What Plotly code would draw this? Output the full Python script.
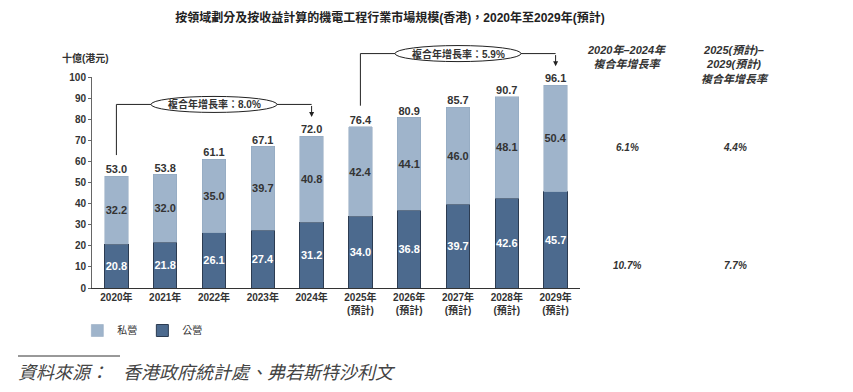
import plotly.graph_objects as go

# ---- data ----
categories = ["2020年", "2021年", "2022年", "2023年", "2024年",
              "2025年<br>(預計)", "2026年<br>(預計)", "2027年<br>(預計)",
              "2028年<br>(預計)", "2029年<br>(預計)"]
public_vals = [20.8, 21.8, 26.1, 27.4, 31.2, 34.0, 36.8, 39.7, 42.6, 45.7]
private_vals = [32.2, 32.0, 35.0, 39.7, 40.8, 42.4, 44.1, 46.0, 48.1, 50.4]
totals = [53.0, 53.8, 61.1, 67.1, 72.0, 76.4, 80.9, 85.7, 90.7, 96.1]
y_ticks = [0, 10, 20, 30, 40, 50, 60, 70, 80, 90, 100]
cagr_spans = [(0, 4, "複合年增長率：8.0%"), (5, 9, "複合年增長率：5.9%")]
cagr_headers = ["2020年–2024年<br>複合年增長率", "2025(預計)–<br>2029(預計)<br>複合年增長率"]
cagr_private = ["6.1%", "4.4%"]
cagr_public = ["10.7%", "7.7%"]

LIGHT = "#9fb4cb"
DARK = "#4c6a8e"
DARK_EDGE = "#2c3c52"
TXT = "#333333"
NUM_FONT = "Liberation Sans, Arial, sans-serif"
CJK = "Liberation Sans, Noto Sans CJK TC, sans-serif"

# page has an 8px body margin: convert reference pixel positions to figure pixels
OFF = 8
W, H = 853 - OFF, 392 - OFF
PL, PR, PT, PB = 92 - OFF, 580 - OFF, 77 - OFF, 288 - OFF
Y_MAX = 100
N = len(categories)
PX_PER_UNIT = (PB - PT) / Y_MAX


def px_x(px):
    return (px - OFF - PL) / (PR - PL)


def px_y(py):
    return (PB - (py - OFF)) / (PB - PT)


def cat_x(i):
    return (i + 0.5) / N


def val_y(v):
    return v / Y_MAX


fig = go.Figure()
fig.add_trace(go.Bar(
    x=categories, y=public_vals, name="公營",
    marker=dict(color=DARK, line=dict(color=DARK_EDGE, width=1)),
    text=[f"{v:.1f}" for v in public_vals], textposition="inside", textangle=0,
    insidetextanchor="middle", constraintext="none",
    textfont=dict(color="white", size=11, family=NUM_FONT, weight="bold"),
))
fig.add_trace(go.Bar(
    x=categories, y=private_vals, name="私營",
    marker=dict(color=LIGHT, line=dict(color="#8fa5bd", width=0.5)),
    text=[f"{v:.1f}" for v in private_vals], textposition="inside", textangle=0,
    insidetextanchor="middle", constraintext="none",
    textfont=dict(color=TXT, size=11, family=NUM_FONT, weight="bold"),
))
fig.add_trace(go.Scatter(
    x=categories, y=totals, mode="text",
    text=[f"{v:.1f}" for v in totals], textposition="top center",
    textfont=dict(color=TXT, size=11, family=NUM_FONT, weight="bold"),
    showlegend=False, hoverinfo="skip", cliponaxis=False,
))

# CAGR brackets derived from data (paper refs so they are not clipped)
for i0, i1, label in cagr_spans:
    level = max(totals[i0:i1 + 1]) + 15
    y_start = totals[i0] + 10
    y_end = totals[i1] + 9
    line = dict(color="#222222", width=1)
    fig.add_shape(type="line", xref="paper", yref="paper", x0=cat_x(i0), x1=cat_x(i0),
                  y0=val_y(y_start), y1=val_y(level), line=line)
    fig.add_shape(type="line", xref="paper", yref="paper", x0=cat_x(i0), x1=cat_x(i1),
                  y0=val_y(level), y1=val_y(level), line=line)
    fig.add_annotation(x=cat_x(i1), y=val_y(y_end), xref="paper", yref="paper",
                       ax=0, ay=-(level - y_end) * PX_PER_UNIT,
                       showarrow=True, arrowhead=2, arrowsize=1, arrowwidth=1,
                       arrowcolor="#222222", text="")
    mid = (cat_x(i0) + cat_x(i1)) / 2
    fig.add_shape(type="circle", xref="paper", yref="paper", x0=mid - 63 / (PR - PL),
                  x1=mid + 63 / (PR - PL), y0=val_y(level - 3.8), y1=val_y(level + 3.8),
                  line=dict(color="#222222", width=1), fillcolor="white", layer="above")
    fig.add_annotation(x=mid, y=val_y(level), xref="paper", yref="paper", text=label,
                       xanchor="center", yanchor="middle", showarrow=False,
                       font=dict(size=10, color=TXT, family=CJK, weight="bold"))

# Right side CAGR table
col_x = [627, 735]
for k in range(2):
    fig.add_annotation(x=px_x(col_x[k]), y=px_y(42), xref="paper", yref="paper",
                       xanchor="center", yanchor="top", text=f"<i>{cagr_headers[k]}</i>",
                       showarrow=False, align="center",
                       font=dict(size=11, color=TXT, family=CJK, weight="bold"))
    fig.add_annotation(x=px_x(col_x[k]), y=px_y(147), xref="paper", yref="paper",
                       xanchor="center", yanchor="middle", text=f"<i>{cagr_private[k]}</i>",
                       showarrow=False, font=dict(size=10, color=TXT, family=NUM_FONT, weight="bold"))
    fig.add_annotation(x=px_x(col_x[k]), y=px_y(265), xref="paper", yref="paper",
                       xanchor="center", yanchor="middle", text=f"<i>{cagr_public[k]}</i>",
                       showarrow=False, font=dict(size=10, color=TXT, family=NUM_FONT, weight="bold"))

# Unit label
fig.add_annotation(x=px_x(60), y=px_y(58), xref="paper", yref="paper", xanchor="left",
                   yanchor="middle", text="十億(港元)", showarrow=False,
                   font=dict(size=10, color=TXT, family=CJK, weight="bold"))

# Source
fig.add_shape(type="line", xref="paper", yref="paper", x0=px_x(18), x1=px_x(120),
              y0=px_y(356), y1=px_y(356), line=dict(color="#333333", width=1))
fig.add_annotation(x=px_x(16), y=px_y(373), xref="paper", yref="paper", xanchor="left",
                   yanchor="middle", text="<i>資料來源：   香港政府統計處、弗若斯特沙利文</i>",
                   showarrow=False, font=dict(size=18, color="#444444", family=CJK))

fig.update_layout(
    width=W, height=H,
    margin=dict(l=PL, r=W - PR, t=PT, b=H - PB, autoexpand=False),
    paper_bgcolor="white", plot_bgcolor="white",
    barmode="stack", bargap=0.52,
    title=dict(text="按領域劃分及按收益計算的機電工程行業市場規模(香港)，2020年至2029年(預計)",
               x=(390 - OFF) / W, xanchor="center", y=1 - (18 - OFF) / H, yanchor="middle",
               font=dict(size=12, color="#222222", family=CJK, weight="bold")),
    showlegend=True,
    legend=dict(orientation="h", x=-0.03, y=px_y(316), xanchor="left", yanchor="top",
                traceorder="reversed", font=dict(size=10, color=TXT, family=CJK),
                itemwidth=30, tracegroupgap=0),
    xaxis=dict(type="category", categoryorder="array", categoryarray=categories,
               showline=True, linecolor="#333333", linewidth=1, ticks="",
               tickfont=dict(size=10, color=TXT, family=CJK, weight="bold"),
               showgrid=False, fixedrange=True),
    yaxis=dict(range=[0, Y_MAX], tickvals=y_ticks, showline=True, linecolor="#666666",
               linewidth=1, ticks="outside", ticklen=3, tickcolor="#666666",
               showgrid=False, zeroline=False,
               tickfont=dict(size=10, color=TXT, family=NUM_FONT, weight="bold")),
)

fig.write_html("out.html")
